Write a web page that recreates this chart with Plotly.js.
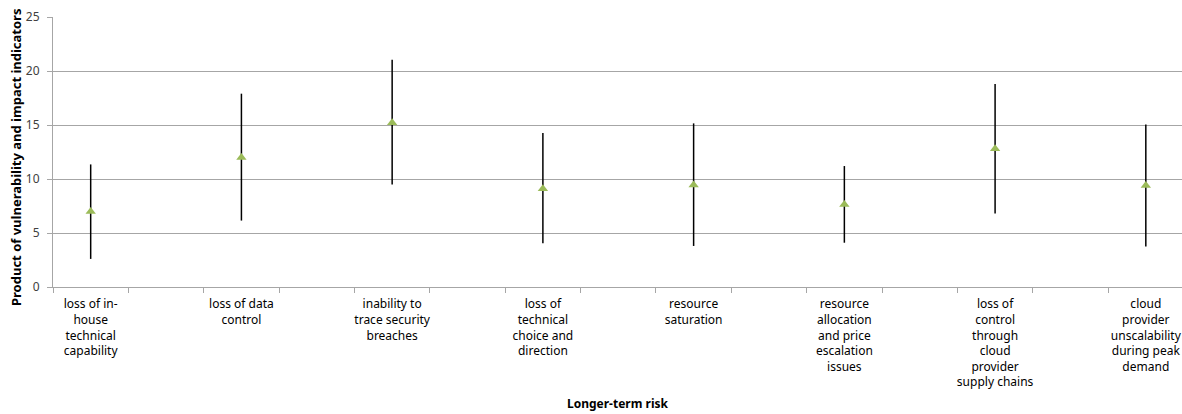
<!DOCTYPE html>
<html>
<head>
<meta charset="utf-8">
<script src="https://cdn.plot.ly/plotly-3.0.1.min.js"></script>
<style>
  html, body { margin: 0; padding: 0; background: #ffffff; }
  #chart { width: 1182px; height: 414px; }
</style>
</head>
<body>
<div id="chart"></div>
<script>
const categories = [
  "loss of in-<br>house<br>technical<br>capability",
  "loss of data<br>control",
  "inability to<br>trace security<br>breaches",
  "loss of<br>technical<br>choice and<br>direction",
  "resource<br>saturation",
  "resource<br>allocation<br>and price<br>escalation<br>issues",
  "loss of<br>control<br>through<br>cloud<br>provider<br>supply chains",
  "cloud<br>provider<br>unscalability<br>during peak<br>demand"
];
const midValues  = [7.0, 12.0, 15.2, 9.1, 9.45, 7.65, 12.8, 9.4];
const highValues = [11.35, 17.9, 21.05, 14.25, 15.15, 11.2, 18.8, 15.05];
const lowValues  = [2.6, 6.15, 9.5, 4.05, 3.8, 4.1, 6.8, 3.75];
const xTitle = "Longer-term risk";
const yTitle = "Product of vulnerability and impact indicators";

const xPos = categories.map((_, i) => i);
const errPlus = highValues.map((h, i) => h - midValues[i]);
const errMinus = lowValues.map((l, i) => midValues[i] - l);

const fontFam = "Noto Sans, Open Sans, sans-serif";

const trace = {
  type: "scatter",
  mode: "markers",
  x: xPos,
  y: midValues,
  marker: { symbol: "triangle-up", size: 9, color: "#9BBB59" },
  error_y: {
    type: "data",
    symmetric: false,
    array: errPlus,
    arrayminus: errMinus,
    width: 0,
    thickness: 1.5,
    color: "#000000"
  },
  hoverinfo: "skip",
  showlegend: false
};

const layout = {
  width: 1182,
  height: 414,
  margin: { l: 53, r: 0, t: 17, b: 127 },
  paper_bgcolor: "#ffffff",
  plot_bgcolor: "#ffffff",
  font: { family: fontFam, size: 12, color: "#000000" },
  showlegend: false,
  xaxis: {
    range: [-0.25, 7.24],
    tickmode: "array",
    tickvals: xPos,
    ticktext: categories,
    ticks: "",
    showgrid: false,
    zeroline: false,
    showline: true,
    linecolor: "#a6a6a6",
    linewidth: 1,
    tickfont: { family: fontFam, size: 12, color: "#000000" },
    ticklabelstandoff: 6,
    minor: {
      ticks: "outside",
      tickmode: "linear",
      tick0: -0.25,
      dtick: 0.5,
      ticklen: 5,
      tickcolor: "#a6a6a6",
      tickwidth: 1,
      showgrid: false
    },
    fixedrange: true
  },
  yaxis: {
    range: [0, 25],
    tickmode: "linear",
    tick0: 0,
    dtick: 5,
    ticks: "outside",
    ticklen: 5,
    tickcolor: "#a6a6a6",
    showgrid: true,
    gridcolor: "#a6a6a6",
    gridwidth: 1,
    zeroline: false,
    showline: true,
    linecolor: "#a6a6a6",
    linewidth: 1,
    tickfont: { family: fontFam, size: 12, color: "#404040" },
    ticklabelstandoff: 5,
    fixedrange: true
  },
  annotations: [
    {
      text: "<b>" + xTitle + "</b>",
      xref: "paper", yref: "paper",
      x: 0.5, y: 0,
      xanchor: "center", yanchor: "middle",
      yshift: -116,
      showarrow: false,
      font: { family: fontFam, size: 12, color: "#000000" }
    },
    {
      text: "<b>" + yTitle + "</b>",
      xref: "paper", yref: "paper",
      x: -37 / 1129, y: 0.5,
      xanchor: "center", yanchor: "middle",
      yshift: -6,
      textangle: -90,
      showarrow: false,
      font: { family: fontFam, size: 13, color: "#000000" }
    }
  ]
};

Plotly.newPlot("chart", [trace], layout, { displayModeBar: false, staticPlot: true });
</script>
</body>
</html>
